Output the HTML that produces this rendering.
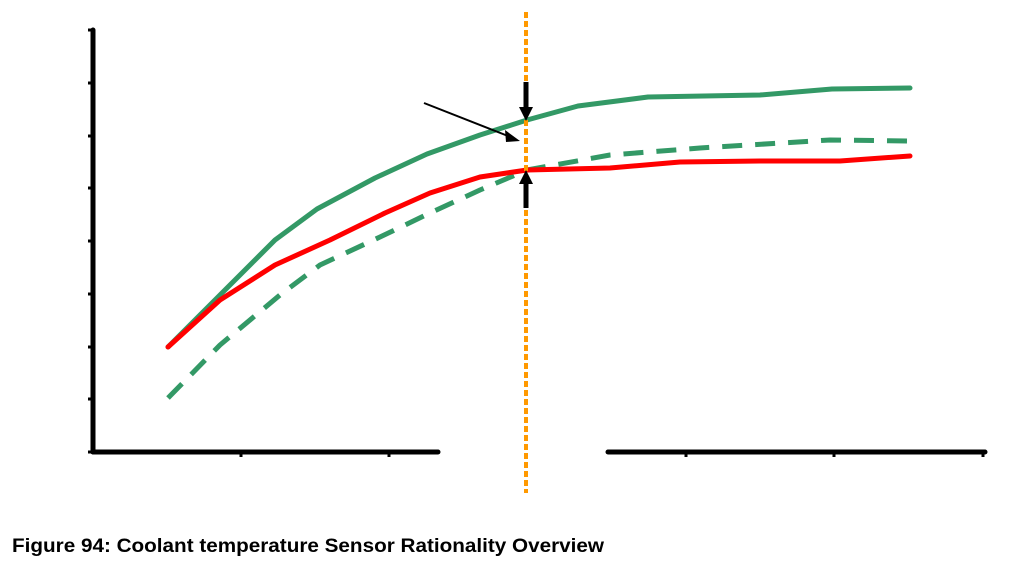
<!DOCTYPE html>
<html><head><style>html,body{margin:0;padding:0;background:#fff;width:1014px;height:562px;overflow:hidden}</style></head>
<body>
<svg width="1014" height="562" viewBox="0 0 1014 562" xmlns="http://www.w3.org/2000/svg">
<g stroke="#000" stroke-width="5" stroke-linecap="round" fill="none">
<line x1="93" y1="30" x2="93" y2="452"/>
<line x1="93" y1="452" x2="438" y2="452"/>
<line x1="608" y1="452" x2="985" y2="452"/>
</g>
<g stroke="#000" stroke-width="3">
<line x1="88" y1="30" x2="93" y2="30"/><line x1="88" y1="83" x2="93" y2="83"/><line x1="88" y1="136" x2="93" y2="136"/>
<line x1="88" y1="188" x2="93" y2="188"/><line x1="88" y1="241" x2="93" y2="241"/><line x1="88" y1="294" x2="93" y2="294"/>
<line x1="88" y1="347" x2="93" y2="347"/><line x1="88" y1="399" x2="93" y2="399"/><line x1="88" y1="452" x2="93" y2="452"/>
<line x1="241" y1="452" x2="241" y2="457"/><line x1="389" y1="452" x2="389" y2="457"/>
<line x1="686" y1="452" x2="686" y2="457"/><line x1="834" y1="452" x2="834" y2="457"/><line x1="983" y1="452" x2="983" y2="457"/>
</g>
<g fill="none" stroke-linejoin="round" stroke-linecap="round" stroke-width="5">
<polyline stroke="#339966" points="168,347 220,295 275,240 317,209 375,178 427,154 480,135 527,120 578,106 648,97 760,95 832,89 910,88"/>
<polyline stroke="#339966" stroke-dasharray="20,13" stroke-linecap="butt" points="168,398 220,345 280,295 320,265 380,237 430,213 480,190 527,170 610,155 700,148 830,140 910,141"/>
<polyline stroke="#ff0000" points="168,347 220,300 275,265 330,240 385,213 430,193 480,177 527,170 610,168 680,162 760,161 840,161 910,156"/>
</g>
<line x1="526" y1="12" x2="526" y2="493" stroke="#ff9900" stroke-width="4" stroke-dasharray="6,3"/>
<line x1="526" y1="82" x2="526" y2="110" stroke="#000" stroke-width="5"/>
<path d="M519,107 L533,107 L526,121 z" fill="#000"/>
<line x1="526" y1="208" x2="526" y2="182" stroke="#000" stroke-width="5"/>
<path d="M519,184 L533,184 L526,170 z" fill="#000"/>
<line x1="424" y1="103" x2="508" y2="136" stroke="#000" stroke-width="2"/>
<path d="M520,141 L505,130 L506,142 z" fill="#000"/>
<text x="12" y="552" font-family="Liberation Sans, sans-serif" font-weight="bold" font-size="19" textLength="592" lengthAdjust="spacingAndGlyphs">Figure 94: Coolant temperature Sensor Rationality Overview</text>
</svg>
</body></html>
